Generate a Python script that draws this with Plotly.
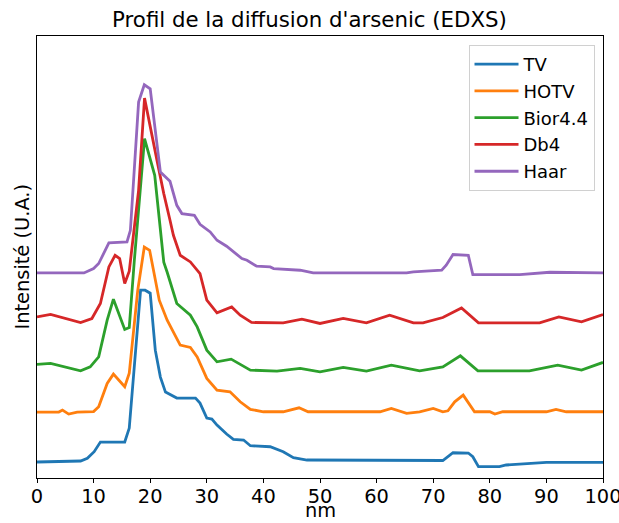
import plotly.graph_objects as go

# Arsenic diffusion profiles (EDXS) reconstructed with five denoising methods.
# Each profile is shifted vertically by its offset for readability.

tv_nm = [0, 7.7, 8.9, 10.1, 11.2, 15.5, 16.3, 18.3, 19.1, 20.0, 20.9, 21.8, 22.7,
         24.7, 28.0, 28.8, 30.0, 30.9, 31.8, 33.5, 34.7, 36.5, 37.7, 41.2, 43.5,
         45.3, 47.7, 60.0, 71.7, 73.5, 76.2, 77.0, 78.0, 81.7, 82.9, 90.0, 100]
tv_val = [0.0, 0.01, 0.037, 0.103, 0.20, 0.20, 0.34, 1.72, 1.72, 1.69, 1.12, 0.85,
          0.70, 0.64, 0.64, 0.59, 0.44, 0.43, 0.37, 0.28, 0.227, 0.22, 0.163, 0.153,
          0.103, 0.043, 0.02, 0.015, 0.015, 0.093, 0.09, 0.053, -0.047, -0.047,
          -0.03, -0.003, -0.003]

hotv_nm = [0, 3.85, 4.5, 5.6, 7.1, 10.0, 10.9, 12.4, 13.5, 15.5, 16.3, 17.8, 18.96,
           19.9, 21.6, 23.0, 25.3, 27.1, 28.3, 30.0, 31.8, 34.1, 35.9, 37.7, 40.0,
           43.5, 46.3, 47.9, 60.6, 62.6, 65.3, 67.6, 70.0, 71.7, 72.6, 73.8, 75.3,
           77.3, 80.0, 80.9, 82.3, 90.0, 91.7, 93.5, 100]
hotv_val = [0.0, 0.0, 0.02, -0.02, 0.0, 0.005, 0.053, 0.287, 0.38, 0.253, 0.39, 1.22,
            1.653, 1.62, 1.12, 0.92, 0.67, 0.647, 0.553, 0.337, 0.22, 0.203, 0.103,
            0.027, 0.003, 0.003, 0.043, 0.003, 0.003, 0.037, -0.013, 0.003, 0.037,
            0.003, 0.013, 0.103, 0.17, 0.003, 0.003, -0.02, 0.003, 0.003, 0.027,
            0.003, 0.003]

bior_nm = [0, 2.4, 7.7, 9.4, 10.9, 12.4, 13.5, 15.5, 16.3, 17.2, 19.0, 20.8, 22.4,
           23.0, 24.7, 27.1, 28.3, 30.0, 31.8, 34.3, 37.7, 42.4, 46.5, 50.0, 54.1,
           58.2, 62.6, 67.6, 71.7, 74.8, 77.9, 87.0, 92.0, 96.2, 100]
bior_val = [-0.023, -0.013, -0.087, -0.047, 0.053, 0.42, 0.63, 0.327, 0.347, 1.02,
            2.237, 1.87, 1.0, 0.90, 0.587, 0.47, 0.353, 0.12, 0.003, 0.03, -0.08,
            -0.09, -0.063, -0.097, -0.053, -0.09, -0.03, -0.087, -0.047, 0.063,
            -0.087, -0.087, -0.03, -0.08, -0.003]

db4_nm = [0, 2.4, 7.7, 9.7, 11.2, 12.7, 13.8, 14.6, 15.5, 16.3, 17.95, 19.0, 21.2,
          22.4, 23.5, 24.1, 25.3, 27.1, 28.8, 30.0, 31.8, 34.4, 35.9, 37.9, 43.5,
          46.8, 50.0, 54.1, 58.2, 62.3, 66.5, 68.2, 71.7, 75.0, 78.0, 88.8, 92.2,
          96.2, 100]
db4_val = [-0.047, -0.023, -0.103, -0.063, 0.087, 0.453, 0.57, 0.537, 0.287, 0.41,
           1.22, 2.143, 1.52, 1.187, 0.92, 0.77, 0.57, 0.503, 0.387, 0.12, -0.007,
           0.053, -0.03, -0.103, -0.107, -0.07, -0.113, -0.063, -0.107, -0.03,
           -0.107, -0.107, -0.053, 0.043, -0.107, -0.107, -0.047, -0.097, -0.023]

haar_nm = [0, 8.3, 10.0, 10.9, 12.7, 15.9, 16.5, 17.95, 18.96, 20.0, 21.8, 23.5,
           24.7, 25.6, 27.8, 28.8, 30.6, 31.8, 33.5, 36.2, 37.1, 38.8, 41.2, 41.8,
           46.5, 48.8, 65.3, 66.5, 71.5, 72.3, 73.5, 76.2, 77.0, 85.3, 90.6, 100]
haar_val = [-0.107, -0.107, -0.063, -0.013, 0.193, 0.203, 0.32, 1.603, 1.777, 1.737,
            0.903, 0.81, 0.57, 0.487, 0.47, 0.38, 0.303, 0.22, 0.16, 0.037, 0.02,
            -0.04, -0.047, -0.063, -0.08, -0.107, -0.107, -0.097, -0.08, -0.03,
            0.077, 0.07, -0.123, -0.123, -0.10, -0.107]

names = ["TV", "HOTV", "Bior4.4", "Db4", "Haar"]
offsets = [0.0, 0.5, 1.0, 1.5, 2.0]
colors = ["#1f77b4", "#ff7f0e", "#2ca02c", "#d62728", "#9467bd"]
series_x = [tv_nm, hotv_nm, bior_nm, db4_nm, haar_nm]
series_y = [tv_val, hotv_val, bior_val, db4_val, haar_val]

x_ticks = [0, 10, 20, 30, 40, 50, 60, 70, 80, 90, 100]

fig = go.Figure()
for name, off, col, xs, ys in zip(names, offsets, colors, series_x, series_y):
    fig.add_trace(go.Scatter(
        x=xs, y=[v + off for v in ys], mode="lines", name=name,
        legendgroup=name,
        line=dict(color=col, width=2.8),
    ))

font = "DejaVu Sans, sans-serif"
fig.update_layout(
    width=619, height=523,
    margin=dict(l=36.5, r=15.5, t=35.5, b=45),
    paper_bgcolor="white", plot_bgcolor="white",
    font=dict(family=font, size=19.4, color="black"),
    title=dict(text="Profil de la diffusion d'arsenic (EDXS)", x=0.5, xanchor="center",
               y=0.962, yanchor="middle", font=dict(size=21.3, family=font)),
    legend=dict(x=0.985, xanchor="right", y=0.98, yanchor="top",
                bordercolor="#d0d0d0", borderwidth=1, bgcolor="rgba(255,255,255,0.8)",
                tracegroupgap=0.4, itemwidth=44, font=dict(size=18, family=font)),
    xaxis=dict(range=[0, 100], tickvals=x_ticks, ticks="outside", ticklen=4,
               tickwidth=1, tickcolor="black", showgrid=False, zeroline=False,
               showline=True, linecolor="black", linewidth=1, mirror=True,
               automargin=False, ticklabeloverflow="allow", ticklabelstandoff=-3,
               tickfont=dict(size=19.4)),
    yaxis=dict(range=[-0.16, 4.265], showticklabels=False, ticks="", showgrid=False,
               zeroline=False, showline=True, linecolor="black", linewidth=1,
               mirror=True, automargin=False),
    annotations=[
        dict(text="Intensité (U.A.)", xref="paper", yref="paper",
             x=-0.0273, y=0.5, xanchor="center", yanchor="middle",
             textangle=-90, showarrow=False, font=dict(size=19.4, family=font)),
        dict(text="nm", xref="paper", yref="paper",
             x=0.5, y=-0.1017, xanchor="center", yanchor="bottom",
             showarrow=False, borderpad=0, font=dict(size=19.4, family=font)),
    ],
)

fig.write_html("out.html")
